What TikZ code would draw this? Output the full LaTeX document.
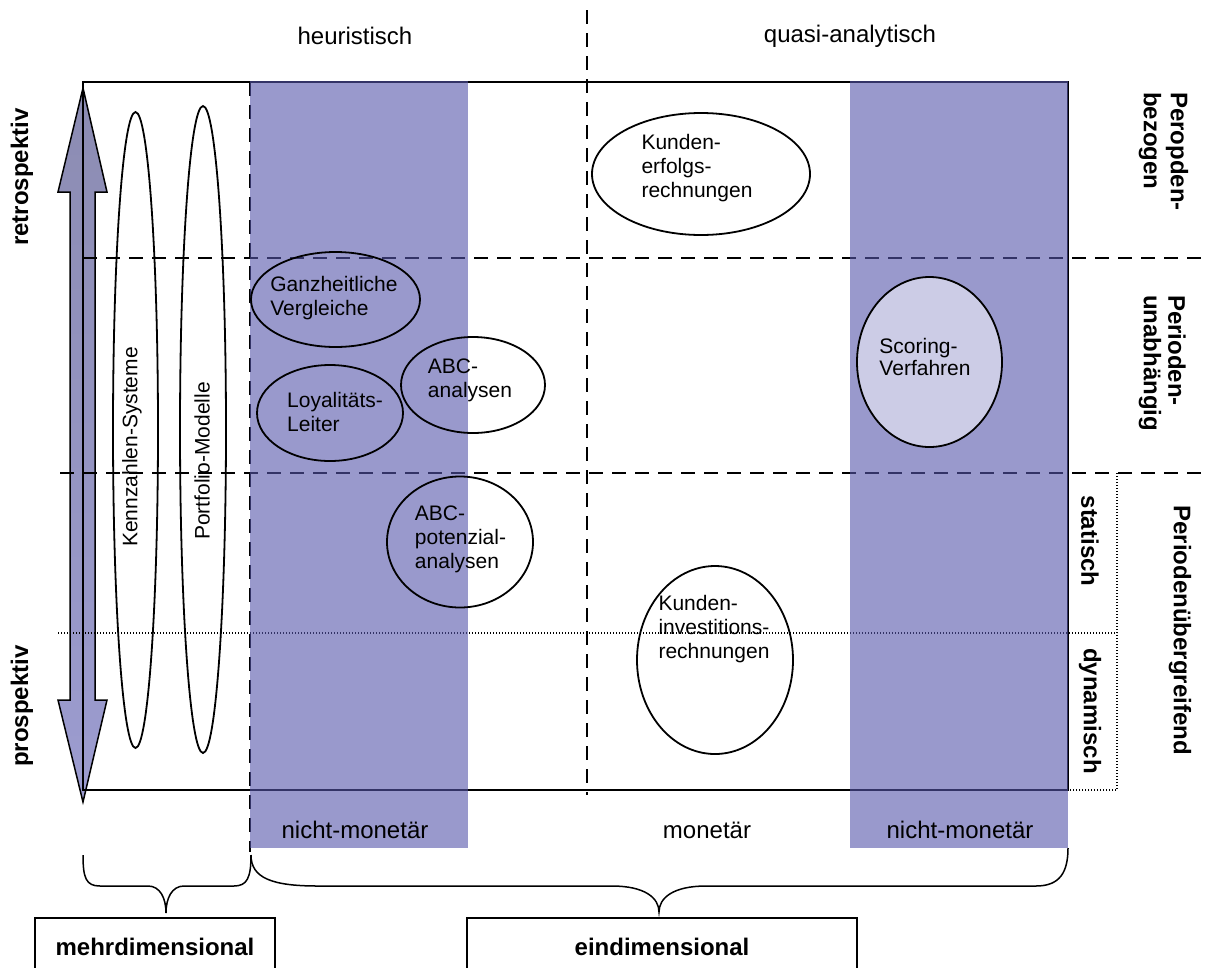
\documentclass[tikz,border=0pt]{standalone}
\usepackage{fontspec}
\setmainfont{Liberation Sans}
\usetikzlibrary{shapes.geometric}
\definecolor{colblue}{RGB}{85,85,170}
\definecolor{arrowtop}{RGB}{140,140,178}
\definecolor{arrowbot}{RGB}{156,156,208}
\definecolor{scorefill}{RGB}{204,204,230}
\tikzset{
  frame/.style={line width=1.5pt},
  divider/.style={line width=1.5pt, dash pattern=on 14pt off 9pt},
  fineline/.style={line width=1.2pt, dash pattern=on 1.2pt off 1.8pt},
  band/.style={fill=colblue, fill opacity=0.6},
  method/.style={ellipse, draw, line width=1.8pt, inner sep=0pt},
  mtext/.style={font=\fontsize{21}{24}\selectfont, align=left, inner sep=0pt},
  lbl/.style={font=\fontsize{24}{28}\selectfont, inner sep=0pt},
  blbl/.style={font=\fontsize{24}{27}\selectfont\bfseries, inner sep=0pt, align=left},
  dimbox/.style={draw, line width=1.5pt, font=\fontsize{24}{28}\selectfont\bfseries, inner sep=0pt},
  bracket/.style={line width=1.5pt}
}
\begin{document}
\begin{tikzpicture}[x=1pt,y=-1pt]
\useasboundingbox (0,0) rectangle (1209,967);
\clip (0,0) rectangle (1209,967);

% time axis: double arrow retrospektiv / prospektiv
\draw[line width=1.5pt, top color=arrowtop, bottom color=arrowbot]
  (83,88) -- (107,192) -- (95,192) -- (95,700) -- (107,700) -- (83,802)
  -- (58,700) -- (70,700) -- (70,192) -- (58,192) -- cycle;

% frame of the matrix
\draw[frame] (83,82) rectangle (1068,790);

% separators
\draw[divider] (587,10) -- (587,795);
\draw[divider] (250,82) -- (250,852);
\draw[divider] (83,258) -- (1209,258);
\draw[divider] (60,473) -- (1209,473);
\draw[fineline] (58,633) -- (1117,633);
\draw[fineline] (1117,473) -- (1117,790) -- (1068,790);

% non-monetary bands
\fill[band] (250,81) rectangle (468,848);
\fill[band] (850,81) rectangle (1068,848);

% column headings
\node[lbl] (heur) at (355,36) {heuristisch};
\node[lbl] (quasi) at (850,36) {quasi-analytisch};

% time labels
\node[blbl, rotate=90] (retro) at (22,177) {retrospektiv};
\node[blbl, rotate=90] (prosp) at (22,706) {prospektiv};

% multidimensional methods
\node[method, minimum width=45pt, minimum height=636pt] (kennE) at (135.5,430) {};
\node[mtext, rotate=90] (kennT) at (132,447) {Kennzahlen-Systeme};
\node[method, minimum width=46pt, minimum height=647pt] (portE) at (203,429.5) {};
\node[mtext, rotate=90] (portT) at (202,461) {Portfolio-Modelle};

% heuristic methods
\node[method, minimum width=169pt, minimum height=95pt] (ganzE) at (335.5,299.5) {};
\node[mtext] (ganzT) at (334,298) {Ganzheitliche\\Vergleiche};
\node[method, minimum width=146pt, minimum height=96pt] (loyE) at (330,413) {};
\node[mtext] (loyT) at (335,411.5) {Loyalitäts-\\Leiter};
\node[method, minimum width=144pt, minimum height=96pt] (abcE) at (473,385) {};
\node[mtext] (abcT) at (470,380.5) {ABC-\\analysen};
\node[method, minimum width=146pt, minimum height=131pt] (abcpE) at (460,542) {};
\node[mtext] (abcpT) at (460.5,539) {ABC-\\potenzial-\\analysen};

% quasi-analytic methods
\node[method, minimum width=218pt, minimum height=122pt] (erfE) at (701,174) {};
\node[mtext] (erfT) at (697,168) {Kunden-\\erfolgs-\\rechnungen};
\node[method, fill=scorefill, minimum width=145pt, minimum height=170pt] (scoE) at (929.5,362) {};
\node[mtext, font=\fontsize{21}{22.5}\selectfont] (scoT) at (925,357) {Scoring-\\Verfahren};
\node[method, minimum width=156pt, minimum height=188pt] (invE) at (715,660) {};
\node[mtext] (invT) at (714,629) {Kunden-\\investitions-\\rechnungen};

% period labels on the right (each line set on its own, reading downwards)
\node[blbl, rotate=-90, anchor=west] (pbez1) at (1177,92) {Peropden-};
\node[blbl, rotate=-90, anchor=west] (pbez2) at (1150,92) {bezogen};
\node[blbl, rotate=-90, anchor=west] (punab1) at (1177,295) {Perioden-};
\node[blbl, rotate=-90, anchor=west] (punab2) at (1150,295) {unabhängig};
\node[blbl, rotate=-90] (puber) at (1180,630) {Periodenübergreifend};
\node[blbl, rotate=-90] (stat) at (1090,541) {statisch};
\node[blbl, rotate=-90] (dyn) at (1090,711) {dynamisch};

% column footers
\node[lbl] (nm1) at (355,830) {nicht-monetär};
\node[lbl] (mon) at (707,830) {monetär};
\node[lbl] (nm2) at (960,830) {nicht-monetär};

% braces
\coordinate (lbA) at (83,855);
\coordinate (lbB) at (251,855);
\coordinate (lbTip) at (166,913);
\coordinate (rbA) at (251,855);
\coordinate (rbB) at (1068,848);
\coordinate (rbTip) at (659,912);
\draw[bracket] (lbA) .. controls (83,878) and (86,886) .. (100,886) -- (148,886)
  .. controls (160,886) and (166,898) .. (lbTip)
  .. controls (166,898) and (172,886) .. (184,886) -- (234,886)
  .. controls (247,886) and (251,878) .. (lbB);
\draw[bracket] (rbA) .. controls (251,878) and (272,886) .. (318,886) -- (612,886)
  .. controls (645,886) and (659,898) .. (rbTip)
  .. controls (659,898) and (673,886) .. (706,886) -- (1036,886)
  .. controls (1060,886) and (1068,872) .. (rbB);

% dimension boxes
\node[dimbox, minimum width=240pt, minimum height=57pt] (mehr) at (155,946.5) {mehrdimensional};
\node[dimbox, minimum width=390pt, minimum height=57pt] (eind) at (662,946.5) {eindimensional};
\end{tikzpicture}
\end{document}
